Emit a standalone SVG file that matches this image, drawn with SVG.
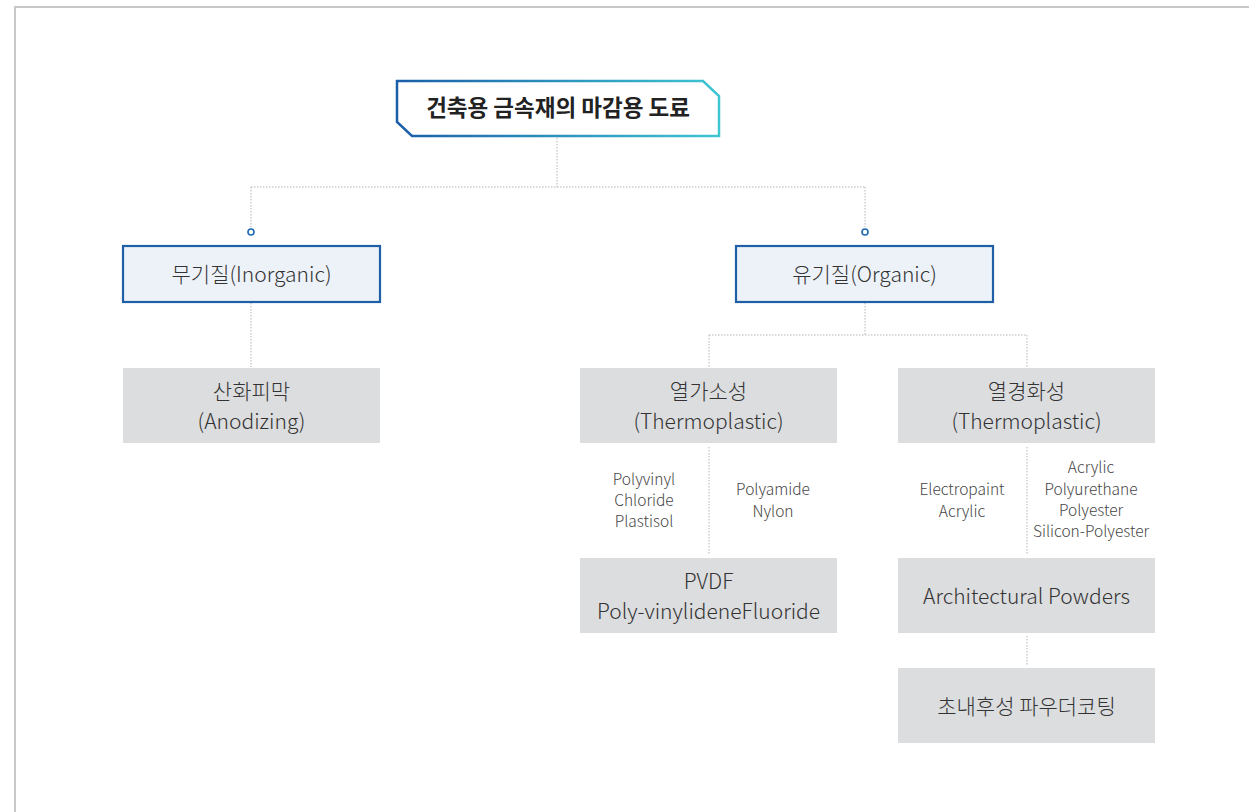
<svg xmlns="http://www.w3.org/2000/svg" width="1249" height="812" viewBox="0 0 1249 812">
<defs>
<linearGradient id="tg" x1="0" y1="0" x2="1" y2="0">
<stop offset="0" stop-color="#1a5ea8"/>
<stop offset="1" stop-color="#3ec6d2"/>
</linearGradient>
<style>
.t{font-family:"Noto Sans CJK KR","Noto Sans",sans-serif;fill:#333;text-anchor:middle;font-weight:300}
.lg{font-size:21px}
.sm{font-size:15.5px;fill:#444}
.blue{fill:#edf2f9;stroke:#1f5fa6;stroke-width:2.2}
.gray{fill:#dcdddf}
.con{fill:none;stroke:#b5b5b5;stroke-width:1;stroke-dasharray:1.5 1.5}
.dot{fill:#fff;stroke:#1f6ab5;stroke-width:1.6}
</style>
</defs>
<rect width="1249" height="812" fill="#fff"/>
<path d="M15,812 V7 H1249" fill="none" stroke="#c8c8c8" stroke-width="2"/>
<g id="connectors">
<path class="con" d="M557,138 V187 M251,187 H865 M251,187 V227 M865,187 V227"/>
<path class="con" d="M251,303 V367"/>
<path class="con" d="M865,303 V335 M709,335 H1027 M709,335 V367 M1027,335 V367"/>
<path class="con" d="M709,447 V554 M1027,447 V554"/>
<path class="con" d="M1027,636 V666"/>
<circle class="dot" cx="251" cy="232" r="3"/>
<circle class="dot" cx="865" cy="232" r="3"/>
</g>
<g id="title">
<polygon points="397,81 703,81 719,96 719,136 412,136 397,122" fill="#fff" stroke="url(#tg)" stroke-width="2.5"/>
<text class="t" x="558" y="116" style="font-size:22.5px;font-weight:700;fill:#222">건축용 금속재의 마감용 도료</text>
</g>
<g id="inorganic">
<rect class="blue" x="123" y="246" width="257" height="56"/>
<text class="t lg" x="251.5" y="282">무기질(Inorganic)</text>
</g>
<g id="organic">
<rect class="blue" x="736" y="246" width="257" height="56"/>
<text class="t lg" x="864.5" y="282">유기질(Organic)</text>
</g>
<g id="anodizing">
<rect class="gray" x="123" y="368" width="257" height="75"/>
<text class="t lg" x="251.5" y="399">산화피막</text>
<text class="t lg" x="251.5" y="429">(Anodizing)</text>
</g>
<g id="thermoplastic">
<rect class="gray" x="580" y="368" width="257" height="75"/>
<text class="t lg" x="708.5" y="399">열가소성</text>
<text class="t lg" x="708.5" y="429">(Thermoplastic)</text>
</g>
<g id="thermoset">
<rect class="gray" x="898" y="368" width="257" height="75"/>
<text class="t lg" x="1026.5" y="399">열경화성</text>
<text class="t lg" x="1026.5" y="429">(Thermoplastic)</text>
</g>
<g id="pvc">
<text class="t sm" x="644" y="485">Polyvinyl</text>
<text class="t sm" x="644" y="506">Chloride</text>
<text class="t sm" x="644" y="527">Plastisol</text>
</g>
<g id="polyamide">
<text class="t sm" x="773" y="495">Polyamide</text>
<text class="t sm" x="773" y="517">Nylon</text>
</g>
<g id="electropaint">
<text class="t sm" x="962" y="495">Electropaint</text>
<text class="t sm" x="962" y="517">Acrylic</text>
</g>
<g id="acrylic">
<text class="t sm" x="1091" y="473">Acrylic</text>
<text class="t sm" x="1091" y="495">Polyurethane</text>
<text class="t sm" x="1091" y="516">Polyester</text>
<text class="t sm" x="1091" y="537">Silicon-Polyester</text>
</g>
<g id="pvdf">
<rect class="gray" x="580" y="558" width="257" height="75"/>
<text class="t lg" x="708.5" y="589">PVDF</text>
<text class="t lg" x="708.5" y="619">Poly-vinylideneFluoride</text>
</g>
<g id="powders">
<rect class="gray" x="898" y="558" width="257" height="75"/>
<text class="t lg" x="1026.5" y="604">Architectural Powders</text>
</g>
<g id="superdurable">
<rect class="gray" x="898" y="668" width="257" height="75"/>
<text class="t lg" x="1026.5" y="714">초내후성 파우더코팅</text>
</g>
</svg>
